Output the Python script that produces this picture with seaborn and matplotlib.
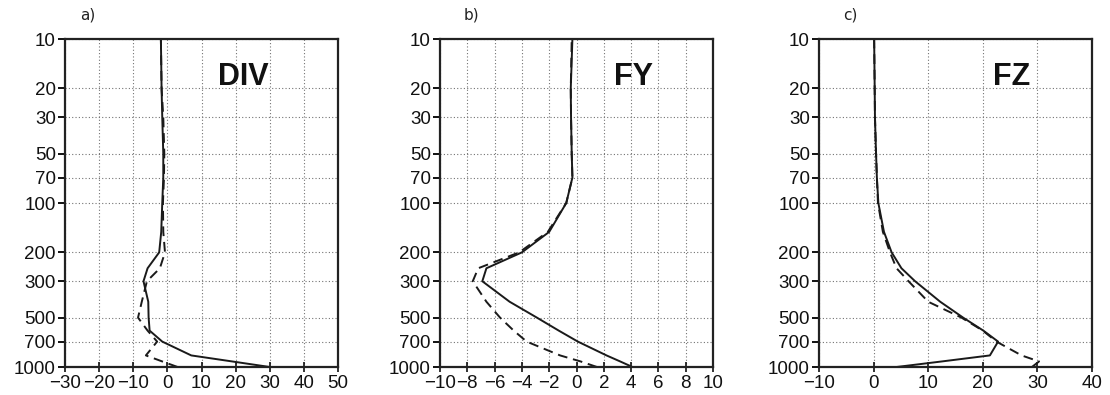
import numpy as np
import pandas as pd
import matplotlib
matplotlib.use("Agg")
import matplotlib.pyplot as plt
import seaborn as sns

# ---------------- data ----------------
levels = [1000, 925, 850, 700, 600, 500, 400, 300, 250, 200, 150, 100, 70, 50, 30, 20, 10]
ytick_vals = [10, 20, 30, 50, 70, 100, 200, 300, 500, 700, 1000]

div_solid = [30.0, 19.0, 7.0, -1.5, -5.2, -5.5, -5.6, -7.0, -5.8, -2.4, -1.8, -1.5, -1.2, -1.2, -1.5, -1.7, -1.9]
div_dash = [3.0, -1.5, -6.3, -3.0, -5.8, -8.6, -7.5, -6.0, -2.2, -0.7, -1.2, -1.3, -1.0, -0.9, -1.2, -1.7, -1.9]

fy_solid = [4.1, 3.2, 2.2, 0.1, -1.3, -2.9, -4.9, -6.9, -6.6, -4.0, -2.0, -0.75, -0.3, -0.35, -0.4, -0.42, -0.3]
fy_dash = [1.5, 0.3, -1.2, -3.65, -4.6, -5.6, -6.6, -7.6, -7.2, -4.2, -2.1, -0.75, -0.3, -0.35, -0.4, -0.42, -0.35]

fz_solid = [4.2, 12.5, 21.3, 22.8, 20.1, 16.4, 12.2, 7.6, 5.1, 3.3, 1.9, 0.87, 0.6, 0.45, 0.25, 0.2, 0.1]
fz_dash = [29.0, 30.3, 27.1, 22.5, 20.0, 16.1, 10.0, 6.4, 4.2, 3.0, 1.7, 0.8, 0.6, 0.45, 0.25, 0.2, 0.1]

panel_labels = ["a)", "b)", "c)"]
panel_titles = ["DIV", "FY", "FZ"]
xticks_a = [-30, -20, -10, 0, 10, 20, 30, 40, 50]
xticks_b = [-10, -8, -6, -4, -2, 0, 2, 4, 6, 8, 10]
xticks_c = [-10, 0, 10, 20, 30, 40]

# ---------------- style ----------------
sns.set_theme(style="white")
plt.rcParams["font.family"] = ["Liberation Sans", "DejaVu Sans"]

fig = plt.figure(figsize=(11.10, 3.95), dpi=100)

lefts = [65, 440, 819]
ax_w, ax_top, ax_bot = 273, 39, 367
W, H = 1110, 395

panels = [
    (div_solid, div_dash, xticks_a, 243),
    (fy_solid, fy_dash, xticks_b, 634),
    (fz_solid, fz_dash, xticks_c, 1012),
]
label_x = [80, 464, 843]

for i, (sol, das, xt, tx) in enumerate(panels):
    l = lefts[i]
    ax = fig.add_axes([l / W, (H - ax_bot) / H, ax_w / W, (ax_bot - ax_top) / H])
    df = pd.DataFrame({"p": levels, "solid": sol, "dash": das})
    sns.lineplot(data=df, x="dash", y="p", orient="y", sort=False, estimator=None,
                 ax=ax, color="#1a1a1a", lw=1.4, linestyle=(0, (5, 3)))
    sns.lineplot(data=df, x="solid", y="p", orient="y", sort=False, estimator=None,
                 ax=ax, color="#1a1a1a", lw=1.4)
    ax.set_yscale("log")
    ax.set_ylim(1000, 10)
    ax.set_xlim(xt[0], xt[-1])
    ax.set_yticks(ytick_vals)
    ax.set_yticklabels([str(v) for v in ytick_vals])
    ax.yaxis.set_minor_locator(matplotlib.ticker.NullLocator())
    ax.set_xticks(xt)
    ax.set_xticklabels([str(v).replace("-", "\u2212") for v in xt])
    ax.set_xlabel("")
    ax.set_ylabel("")
    ax.grid(True, which="major", color="0.45", linestyle=(0, (1, 2)), lw=0.8)
    for s in ax.spines.values():
        s.set_linewidth(1.6)
        s.set_color("#222222")
    ax.tick_params(axis="y", which="major", left=True, direction="out", length=5,
                   width=1.4, pad=1.5, labelsize=13.5, colors="#111111")
    ax.tick_params(axis="x", which="major", bottom=True, direction="inout", length=7,
                   width=1.2, pad=2, labelsize=13.5, colors="#111111")
    ax.text((tx - l) / ax_w, 1 - (77 - ax_top) / (ax_bot - ax_top), panel_titles[i],
            transform=ax.transAxes, ha="center", va="center", fontsize=22,
            fontweight="bold", color="#111111")
    fig.text(label_x[i] / W, 1 - 15 / H, panel_labels[i], ha="left", va="center",
             fontsize=11, color="#222222", family=["DejaVu Sans"])

fig.savefig("out.png", dpi=100)
